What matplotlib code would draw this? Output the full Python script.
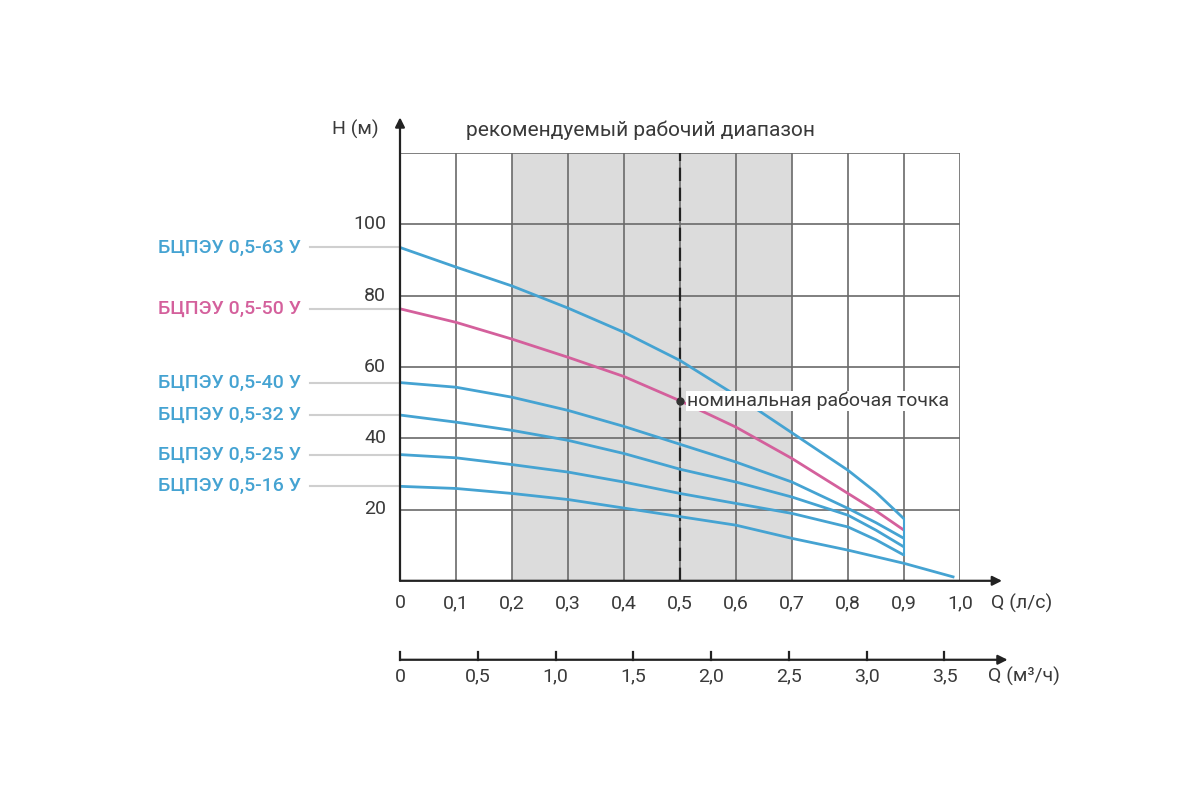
import matplotlib
matplotlib.use("Agg")
import matplotlib.pyplot as plt
import numpy as np

plt.rcParams['font.family'] = ['Roboto', 'DejaVu Sans']

# ---- data ----
q_lps = [0.0, 0.1, 0.2, 0.3, 0.4, 0.5, 0.6, 0.7, 0.8, 0.85, 0.9]
h_63 = [93.5, 88.0, 82.7, 76.5, 69.7, 61.8, 52.0, 41.5, 31.0, 24.8, 17.4]
h_50 = [76.3, 72.5, 67.8, 62.7, 57.3, 50.5, 43.1, 34.3, 24.5, 19.6, 14.2]
h_40 = [55.6, 54.3, 51.5, 47.8, 43.3, 38.3, 33.3, 27.7, 20.3, 16.3, 11.9]
h_32 = [46.5, 44.5, 42.2, 39.4, 35.7, 31.3, 27.7, 23.5, 18.4, 14.2, 9.5]
h_25 = [35.4, 34.5, 32.6, 30.5, 27.7, 24.5, 21.7, 18.9, 15.1, 11.5, 7.2]
q_16 = [0.0, 0.1, 0.2, 0.3, 0.4, 0.5, 0.6, 0.7, 0.8, 0.9, 0.99]
h_16 = [26.5, 25.9, 24.5, 22.8, 20.4, 18.0, 15.6, 11.9, 8.6, 4.9, 1.0]

series_names = ['БЦПЭУ 0,5-63 У', 'БЦПЭУ 0,5-50 У', 'БЦПЭУ 0,5-40 У',
                'БЦПЭУ 0,5-32 У', 'БЦПЭУ 0,5-25 У', 'БЦПЭУ 0,5-16 У']

x_ticks = [0.0, 0.1, 0.2, 0.3, 0.4, 0.5, 0.6, 0.7, 0.8, 0.9, 1.0]
x_ticklabels = ['0', '0,1', '0,2', '0,3', '0,4', '0,5', '0,6', '0,7', '0,8', '0,9', '1,0']
y_ticks = [20, 40, 60, 80, 100]
m3h_ticks = [0.0, 0.5, 1.0, 1.5, 2.0, 2.5, 3.0, 3.5]
m3h_ticklabels = ['0', '0,5', '1,0', '1,5', '2,0', '2,5', '3,0', '3,5']

range_lo, range_hi = 0.2, 0.7
nominal_q, nominal_h = 0.5, 50.5

BLUE = '#45a3d2'
PINK = '#d4609c'
GRID = '#6a6a6a'
TXT = '#3a3a3a'
FS = 14

fig = plt.figure(figsize=(12, 8), dpi=100)
L, R = 400 / 1200, 960 / 1200
B, T = 1 - 580.8 / 800, 1 - 153 / 800
ax = fig.add_axes([L, B, R - L, T - B])
ax.set_xlim(0, 1.0)
ax.set_ylim(0, 120)
for s in ['top', 'right', 'left', 'bottom']:
    ax.spines[s].set_visible(False)
ax.set_xticks([])
ax.set_yticks([])

ax.axvspan(range_lo, range_hi, color='#dcdcdc', zorder=0, lw=0)
for xv in x_ticks[1:]:
    ax.axvline(xv, color=GRID, lw=1.2, zorder=1)
for yv in y_ticks + [120]:
    ax.axhline(yv, color=GRID, lw=1.2, zorder=1)
ax.axvline(nominal_q, color='#222222', lw=1.6, ls=(0, (6, 3)), zorder=2)

arrow_kw = dict(arrowstyle='-|>', color='#222222', lw=1.6,
                mutation_scale=14, shrinkA=0, shrinkB=0)
ax.annotate('', xy=(1.075, 0), xytext=(0, 0), arrowprops=arrow_kw,
            annotation_clip=False, zorder=5)
ax.annotate('', xy=(0, 130), xytext=(0, 0), arrowprops=arrow_kw,
            annotation_clip=False, zorder=5)

curves = [(q_lps, h_63, BLUE), (q_lps, h_50, PINK), (q_lps, h_40, BLUE),
          (q_lps, h_32, BLUE), (q_lps, h_25, BLUE), (q_16, h_16, BLUE)]
for (qq, hh, c) in curves:
    ax.plot(qq, hh, color=c, lw=2.0, zorder=3, solid_capstyle='butt',
            solid_joinstyle='round')
ends = [h_63[-1], h_40[-1], h_32[-1], h_25[-1]]
ax.plot([0.9, 0.9], [min(ends), max(ends)], color=BLUE, lw=1.5, zorder=3)

# labels on left with leader lines
for (qq, hh, c), name in zip(curves, series_names):
    y0 = hh[0]
    ax.plot([-0.16, 0.0], [y0, y0], color='#cfcfcf', lw=1.5, zorder=2, clip_on=False)
    ax.text(-0.177, y0, name, color=c, fontsize=FS, ha='right', va='center',
            fontweight='medium', clip_on=False)

# nominal point
ax.plot([nominal_q], [nominal_h], 'o', color='#333333', ms=5, zorder=6)
ax.text(nominal_q + 0.012, nominal_h, 'номинальная рабочая точка', fontsize=FS,
        color=TXT, ha='left', va='center', zorder=7,
        bbox=dict(facecolor='white', edgecolor='none', pad=0.5))

# tick labels
for xv, lab in zip(x_ticks, x_ticklabels):
    ax.text(xv, -6.3, lab, fontsize=FS, color=TXT, ha='center', va='center')
ax.text(1.11, -6.3, 'Q (л/с)', fontsize=FS, color=TXT, ha='center', va='center', clip_on=False)
for yv in y_ticks:
    ax.text(-0.025, yv, str(yv), fontsize=FS, color=TXT, ha='right', va='center')
ax.text(-0.08, 126.5, 'H (м)', fontsize=FS, color=TXT, ha='center', va='center')
ax.text((range_lo + range_hi) / 2 - 0.02, 126.5, 'рекомендуемый рабочий диапазон',
        fontsize=15, color=TXT, ha='center', va='center')

# second axis in m3/h (drawn below the main axis)
y_line, y_tick, y_lab = -22.15, -19.9, -26.9
ax.annotate('', xy=(1.085, y_line), xytext=(0, y_line), arrowprops=arrow_kw,
            annotation_clip=False)
for mv, lab in zip(m3h_ticks, m3h_ticklabels):
    xq = mv / 3.6
    ax.plot([xq, xq], [y_line, y_tick], color='#222222', lw=1.6, clip_on=False)
    ax.text(xq, y_lab, lab, fontsize=FS, color=TXT, ha='center', va='center')
ax.text(1.115, y_lab, 'Q (м³/ч)', fontsize=FS, color=TXT, ha='center', va='center')

fig.savefig('out.png', dpi=100)
